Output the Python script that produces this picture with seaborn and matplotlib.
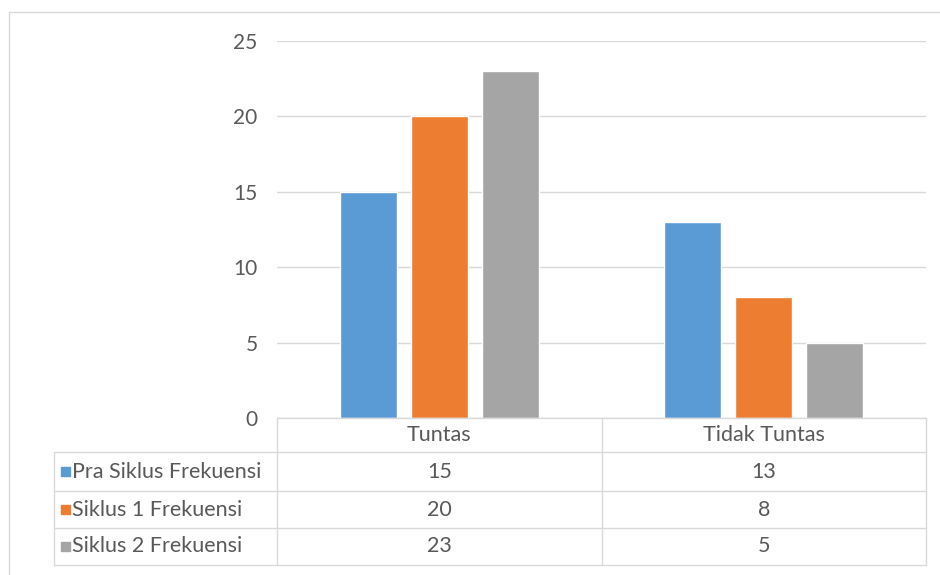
import matplotlib
matplotlib.use("Agg")
import matplotlib.pyplot as plt
import seaborn as sns
import pandas as pd
from matplotlib.lines import Line2D
from matplotlib.patches import Rectangle

categories = ["Tuntas", "Tidak Tuntas"]
series_names = ["Pra Siklus Frekuensi", "Siklus 1 Frekuensi", "Siklus 2 Frekuensi"]
pra_siklus = [15, 13]
siklus_1 = [20, 8]
siklus_2 = [23, 5]
y_ticks = [0, 5, 10, 15, 20, 25]
colors = ["#5B9BD5", "#ED7D31", "#A5A5A5"]

series_values = [pra_siklus, siklus_1, siklus_2]
rows = []
for name, vals in zip(series_names, series_values):
    for cat, v in zip(categories, vals):
        rows.append({"Kategori": cat, "Seri": name, "Nilai": v})
df = pd.DataFrame(rows)

sns.set_theme(style="white")
plt.rcParams["font.family"] = ["Lato", "DejaVu Sans"]

W, H = 940, 575
fig = plt.figure(figsize=(W / 100, H / 100), dpi=100)
fig.patch.set_facecolor("white")

def fx(x):
    return x / W

def fy(y):
    return 1 - y / H

ax_left, ax_right, ax_top, ax_bottom = 277, 926, 41, 418
ax = fig.add_axes([fx(ax_left), fy(ax_bottom), (ax_right - ax_left) / W, (ax_bottom - ax_top) / H])

sns.barplot(data=df, x="Kategori", y="Nilai", hue="Seri", order=categories,
            hue_order=series_names, palette=colors, width=0.657, gap=0.2,
            saturation=1, ax=ax, legend=False, errorbar=None)

ax.set_xlim(-0.5, len(categories) - 0.5)
ax.set_ylim(0, 25)
ax.set_yticks(y_ticks)
ax.set_yticklabels([str(t) for t in y_ticks])
ax.yaxis.grid(True, color="#D9D9D9", linewidth=1)
ax.set_axisbelow(True)
for s in ax.spines.values():
    s.set_visible(False)
ax.tick_params(axis="y", length=0, pad=14, labelsize=15, labelcolor="#595959")
ax.tick_params(axis="x", length=0, labelbottom=False)
ax.set_xlabel("")
ax.set_ylabel("")

fig.canvas.draw()

def data_to_px(xd):
    return ax.transData.transform((xd, 0))[0]

bounds = [data_to_px(i - 0.5) for i in range(len(categories) + 1)]
centers = [data_to_px(i) for i in range(len(categories))]

grid_c = "#D9D9D9"
txt_c = "#595959"
fs = 15.5
table_left = 54
row_lines = [418, 452, 491, 528, 565]

def hline(x0, x1, y):
    fig.add_artist(Line2D([fx(x0), fx(x1)], [fy(y), fy(y)], color=grid_c, lw=1))

def vline(x, y0, y1):
    fig.add_artist(Line2D([fx(x), fx(x)], [fy(y0), fy(y1)], color=grid_c, lw=1))

hline(bounds[0], bounds[-1], row_lines[0])
for y in row_lines[1:]:
    hline(table_left, bounds[-1], y)
vline(table_left, row_lines[1], row_lines[-1])
for b in bounds:
    vline(b, row_lines[0], row_lines[-1])

# outer chart frame (partially visible)
hline(9, 940, 12)
vline(9, 12, 575)

# header
for cat, cx in zip(categories, centers):
    fig.text(fx(cx), fy((row_lines[0] + row_lines[1]) / 2), cat, ha="center", va="center",
             fontsize=fs, color=txt_c)

# rows
for i, (name, vals, col) in enumerate(zip(series_names, series_values, colors)):
    yc = (row_lines[i + 1] + row_lines[i + 2]) / 2
    fig.add_artist(Rectangle((fx(61), fy(yc + 4.5)), 9 / W, 9 / H, color=col,
                             transform=fig.transFigure))
    fig.text(fx(72), fy(yc), name, ha="left", va="center", fontsize=fs, color=txt_c)
    for v, cx in zip(vals, centers):
        fig.text(fx(cx), fy(yc), str(v), ha="center", va="center", fontsize=fs, color=txt_c)

fig.savefig("out.png", dpi=100, facecolor="white")
